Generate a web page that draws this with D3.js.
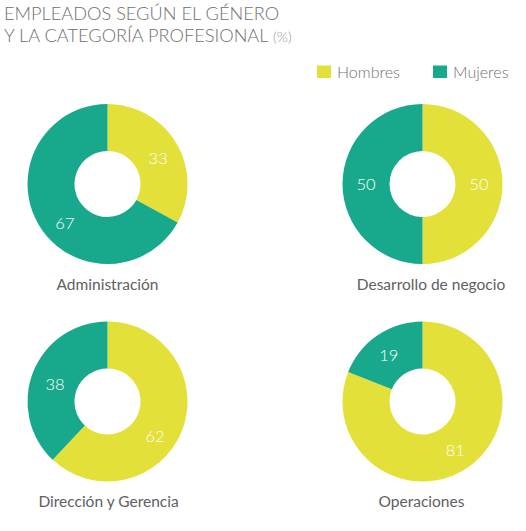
<!DOCTYPE html>
<html><head><meta charset="utf-8">
<script src="https://cdn.jsdelivr.net/npm/d3@7"></script>
<style>
html,body{margin:0;padding:0;background:#fff;}
svg{display:block;font-family:Lato,"Open Sans",sans-serif;}
</style></head>
<body>
<svg id="chart" width="526" height="531"></svg>
<script>
const categories = ["Administración","Desarrollo de negocio","Dirección y Gerencia","Operaciones"];
const series = ["Hombres","Mujeres"];
const hombres = [33, 50, 62, 81];
const mujeres = [67, 50, 38, 19];
const colors = ["#e4e03a", "#18a98d"];

const svg = d3.select("#chart");

// title
const title = svg.append("text").attr("fill","#6f7072").attr("font-weight",300).attr("font-size",18.2);
title.append("tspan").attr("x",4).attr("y",19.5).text("EMPLEADOS SEGÚN EL GÉNERO");
title.append("tspan").attr("x",4).attr("y",42).text("Y LA CATEGORÍA PROFESIONAL ");
title.append("tspan").attr("font-size",14.5).attr("fill","#9a9b9d").text("(%)");

// legend
const legendX = [317, 433];
series.forEach((s,i)=>{
  const g = svg.append("g").attr("transform",`translate(${legendX[i]},65.5)`);
  g.append("rect").attr("width",14).attr("height",12.5).attr("fill",colors[i]);
  g.append("text").attr("x",20).attr("y",12).attr("font-size",16).attr("font-weight",300)
    .attr("fill","#6f7072").text(s);
});

const color = d3.scaleOrdinal().domain(series).range(colors);
const pie = d3.pie().sort(null).value(d=>d.value);
const outerR = 80, innerR = 33;
const arc = d3.arc().innerRadius(innerR).outerRadius(outerR);
const labelArc = d3.arc().innerRadius(innerR).outerRadius(outerR);

const centers = [[107.5,184],[422.5,184],[107.5,401.5],[422.5,401.5]];
const labelPos = [[107.5,290],[431,290],[108.5,507],[421.5,507]];
// small manual nudges for value labels [hombres, mujeres] per chart
const nudges = [[[2,3],[6,10]],[[0,0],[0,0]],[[-5,14],[0,3]],[[1,2],[-2,0]]];

categories.forEach((cat,i)=>{
  const data = [{key:series[0], value:hombres[i]},{key:series[1], value:mujeres[i]}];
  const g = svg.append("g").attr("transform",`translate(${centers[i][0]},${centers[i][1]})`);
  const arcs = pie(data);
  g.selectAll("path").data(arcs).join("path")
    .attr("d",arc).attr("fill",d=>color(d.data.key));
  g.selectAll("text").data(arcs).join("text")
    .attr("transform",(d,j)=>{const c=labelArc.centroid(d);return `translate(${c[0]+nudges[i][j][0]},${c[1]+nudges[i][j][1]})`;})
    .attr("text-anchor","middle").attr("dy","0.36em")
    .attr("font-size",16.5).attr("font-weight",300).attr("fill","#fff")
    .text(d=>d.data.value);
  svg.append("text").attr("x",labelPos[i][0]).attr("y",labelPos[i][1])
    .attr("text-anchor","middle").attr("font-size",15.5).attr("fill","#5f6062")
    .text(cat);
});
</script>
</body></html>
